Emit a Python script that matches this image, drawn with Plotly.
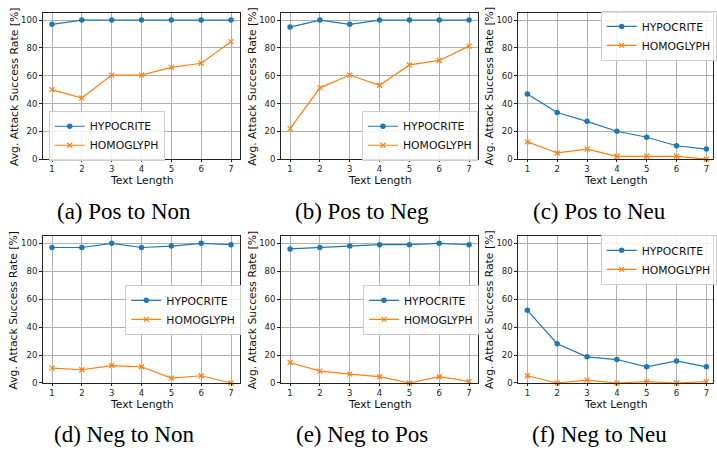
import plotly.graph_objects as go

text_length = [1, 2, 3, 4, 5, 6, 7]
y_ticks = [0, 20, 40, 60, 80, 100]

panel_titles = ["(a) Pos to Non", "(b) Pos to Neg", "(c) Pos to Neu",
                "(d) Neg to Non", "(e) Neg to Pos", "(f) Neg to Neu"]

hypocrite_pos_non = [97, 100, 100, 100, 100, 100, 100]
homoglyph_pos_non = [50, 44, 60.5, 60.5, 66, 69, 84.5]
hypocrite_pos_neg = [95, 100, 97, 100, 100, 100, 100]
homoglyph_pos_neg = [22, 51.3, 60.5, 53.2, 67.8, 71, 81.3]
hypocrite_pos_neu = [46.8, 33.6, 27.2, 20.1, 15.8, 9.7, 7.3]
homoglyph_pos_neu = [12.5, 4.5, 7.3, 2.1, 2.1, 2.1, 0]
hypocrite_neg_non = [97, 97, 100, 97, 98, 100, 99]
homoglyph_neg_non = [10.6, 9.5, 12.5, 11.6, 3.5, 5.2, 0]
hypocrite_neg_pos = [96, 97, 98, 99, 99, 100, 99]
homoglyph_neg_pos = [14.7, 8.5, 6.4, 4.5, 0, 4.5, 1.2]
hypocrite_neg_neu = [52, 28.1, 18.7, 16.8, 11.6, 15.8, 11.6]
homoglyph_neg_neu = [5.2, 0, 2.1, 0, 1, 0, 1]

hypo_all = [hypocrite_pos_non, hypocrite_pos_neg, hypocrite_pos_neu,
            hypocrite_neg_non, hypocrite_neg_pos, hypocrite_neg_neu]
homo_all = [homoglyph_pos_non, homoglyph_pos_neg, homoglyph_pos_neu,
            homoglyph_neg_non, homoglyph_neg_pos, homoglyph_neg_neu]

W, H = 717, 450
BLUE = "#1f77b4"
ORANGE = "#ff7f0e"
FONT = "DejaVu Sans"

# pixel layout
col_x = [(43.3, 241.3), (282.7, 480.7), (521.3, 717.0)]
row_y = [(13.3, 161.0), (239.0, 387.3)]
x_ranges = [[0.7, 7.3], [0.7, 7.3], [0.7, 7.222]]
caption_y = [214, 439]
caption_x = [125, 364, 603]
ytitle_x = [14, 254, 492]
legend_pos = [  # left, top in px
    (49, 112), (364, 112), (604, 11),
    (126, 288), (365, 288), (604, 237.5),
]

fig = go.Figure()
annotations = []
layout = {}
for i in range(6):
    r, c = divmod(i, 3)
    idx = "" if i == 0 else str(i + 1)
    xa, ya = "x" + idx, "y" + idx
    leg = "legend" if i == 0 else "legend" + str(i + 1)
    fig.add_trace(go.Scatter(
        x=text_length, y=hypo_all[i], mode="lines+markers", name="HYPOCRITE",
        line=dict(color=BLUE, width=1.2),
        marker=dict(symbol="circle", size=5.5, color=BLUE),
        xaxis=xa, yaxis=ya, legend=leg, cliponaxis=False))
    fig.add_trace(go.Scatter(
        x=text_length, y=homo_all[i], mode="lines+markers", name="HOMOGLYPH",
        line=dict(color=ORANGE, width=1.2),
        marker=dict(symbol="x-thin", size=5, color=ORANGE,
                    line=dict(color=ORANGE, width=1.2)),
        xaxis=xa, yaxis=ya, legend=leg, cliponaxis=False))
    x0, x1 = col_x[c]
    y0, y1 = row_y[r]
    common = dict(showgrid=True, gridcolor="#b0b0b0", gridwidth=0.8,
                  showline=True, linecolor="#222", linewidth=1, mirror=True,
                  ticks="outside", tickwidth=0.8, tickcolor="#222",
                  zeroline=False, tickfont=dict(family=FONT, size=8.5, color="#222"))
    layout["xaxis" + idx] = dict(domain=[x0 / W, x1 / W], range=x_ranges[c], ticklen=2,
                                 tickvals=text_length, anchor=ya, **common)
    layout["yaxis" + idx] = dict(domain=[1 - y1 / H, 1 - y0 / H], range=[0, 105], ticklen=3,
                                 tickvals=y_ticks, anchor=xa, **common)
    lx, ly = legend_pos[i]
    layout[leg] = dict(x=lx / W, y=1 - ly / H, xanchor="left", yanchor="top",
                       bgcolor="rgba(255,255,255,0.85)", bordercolor="#cccccc",
                       borderwidth=1, font=dict(family=FONT, size=10.8, color="#111"),
                       tracegroupgap=0, itemwidth=30)
    # axis titles
    annotations.append(dict(text="Text Length", xref="paper", yref="paper",
                            x=(x0 + x1) / 2 / W, y=1 - (y1 + 22) / H,
                            xanchor="center", yanchor="middle", showarrow=False,
                            font=dict(family=FONT, size=10.8, color="#111")))
    annotations.append(dict(text="Avg. Attack Success Rate [%]", xref="paper", yref="paper",
                            x=ytitle_x[c] / W, y=1 - (y0 + y1) / 2 / H, textangle=-90,
                            xanchor="center", yanchor="middle", showarrow=False,
                            font=dict(family=FONT, size=10.8, color="#111")))
    annotations.append(dict(text=panel_titles[i], xref="paper", yref="paper",
                            x=caption_x[c] / W, y=1 - caption_y[r] / H,
                            xanchor="center", yanchor="middle", showarrow=False,
                            font=dict(family="Liberation Serif", size=23, color="black")))

fig.update_layout(width=W, height=H, margin=dict(l=0, r=0, t=0, b=0),
                  paper_bgcolor="white", plot_bgcolor="white",
                  annotations=annotations, **layout)
fig.write_html("out.html", config={"displayModeBar": False},
               post_script="document.body.style.margin='0px';")
